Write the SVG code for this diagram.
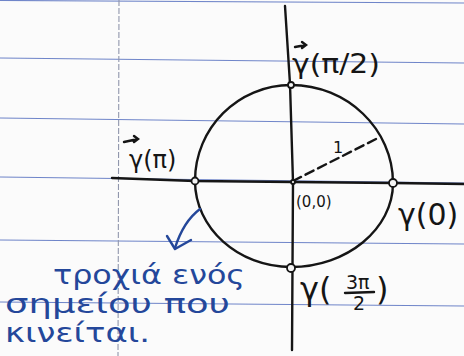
<svg xmlns="http://www.w3.org/2000/svg" width="464" height="356" viewBox="0 0 464 356">
<defs>
<style>
.rule{stroke:#5670c0;stroke-width:1.2;fill:none;opacity:0.85}
.margin{stroke:#9096ac;stroke-width:1.1;stroke-dasharray:6 2;fill:none}
.ink{stroke:#151515;stroke-width:2.4;fill:none;stroke-linecap:round}
.pt{stroke:#151515;stroke-width:1.8;fill:#f4f4f4}
.lbl{font-family:"DejaVu Sans","Liberation Sans",sans-serif;fill:#151515}
.blue{font-family:"DejaVu Sans","Liberation Sans",sans-serif;fill:#24479a;font-size:26px}
.bink{stroke:#24479a;stroke-width:2.4;fill:none;stroke-linecap:round;stroke-linejoin:round}
</style>
</defs>
<rect width="464" height="356" fill="#fbfbfb"/>
<g id="paper">
<path class="rule" d="M0 0.5 L464 3"/>
<path class="rule" d="M0 58 L464 63"/>
<path class="rule" d="M0 118 L464 124"/>
<path class="rule" d="M0 177 L464 183"/>
<path class="rule" d="M0 240 L464 244"/>
<path class="rule" d="M0 302 L464 306"/>
<path class="margin" d="M119 0 L118 356"/>
</g>
<g id="axes">
<path class="ink" d="M285 6 L290 84 L293 182 L292 350"/>
<path class="ink" d="M112 178 L195 181 L293 182 L393 183 L464 184"/>
</g>
<g id="circle">
<path class="ink" d="M291 85 C347 85 393 129 393 183 C393 229 347 267 291 267 C238 267 195 228 195 181 C195 128 238 85 291 85 Z"/>
<path class="ink" d="M293 181 L380 137" stroke-dasharray="9 5" stroke-width="2"/>
</g>
<g id="points">
<circle class="pt" cx="195" cy="181" r="3.5"/>
<circle class="pt" cx="393" cy="183" r="4"/>
<circle class="pt" cx="291" cy="268" r="4"/>
<circle class="pt" cx="291" cy="85" r="3"/>
<circle class="pt" cx="293" cy="182" r="2"/>
</g>
<g id="labels">
<text class="lbl" x="292" y="73" font-size="26" textLength="88" lengthAdjust="spacingAndGlyphs">γ(π/2)</text>
<path class="ink" stroke-width="1.6" d="M295 47 L306 45 M302 42 L306 45 L302 48"/>
<text class="lbl" x="129" y="168" font-size="24">γ(π)</text>
<path class="ink" stroke-width="1.6" d="M124 142 L138 139 M134 136 L138 139 L134 142"/>
<text class="lbl" x="333" y="153" font-size="16">1</text>
<text class="lbl" x="296" y="207" font-size="15">(0,0)</text>
<text class="lbl" x="398" y="225" font-size="30">γ(0)</text>
<text class="lbl" x="300" y="300" font-size="32">γ(</text>
<text class="lbl" x="346" y="289" font-size="19">3π</text>
<path class="ink" stroke-width="1.8" d="M345 293 L374 292"/>
<text class="lbl" x="353" y="310" font-size="19">2</text>
<text class="lbl" x="376" y="300" font-size="32">)</text>
</g>
<g id="note">
<path class="bink" d="M200 209 C188 218 180 232 175 248"/>
<path class="bink" d="M167 236 L175 249 L191 240"/>
<text class="blue" x="53" y="284" textLength="192" lengthAdjust="spacingAndGlyphs">τροχιά ενός</text>
<text class="blue" x="5" y="313" textLength="225" lengthAdjust="spacingAndGlyphs">σημείου που</text>
<text class="blue" x="5" y="342" textLength="145" lengthAdjust="spacingAndGlyphs">κινείται.</text>
</g>
</svg>
